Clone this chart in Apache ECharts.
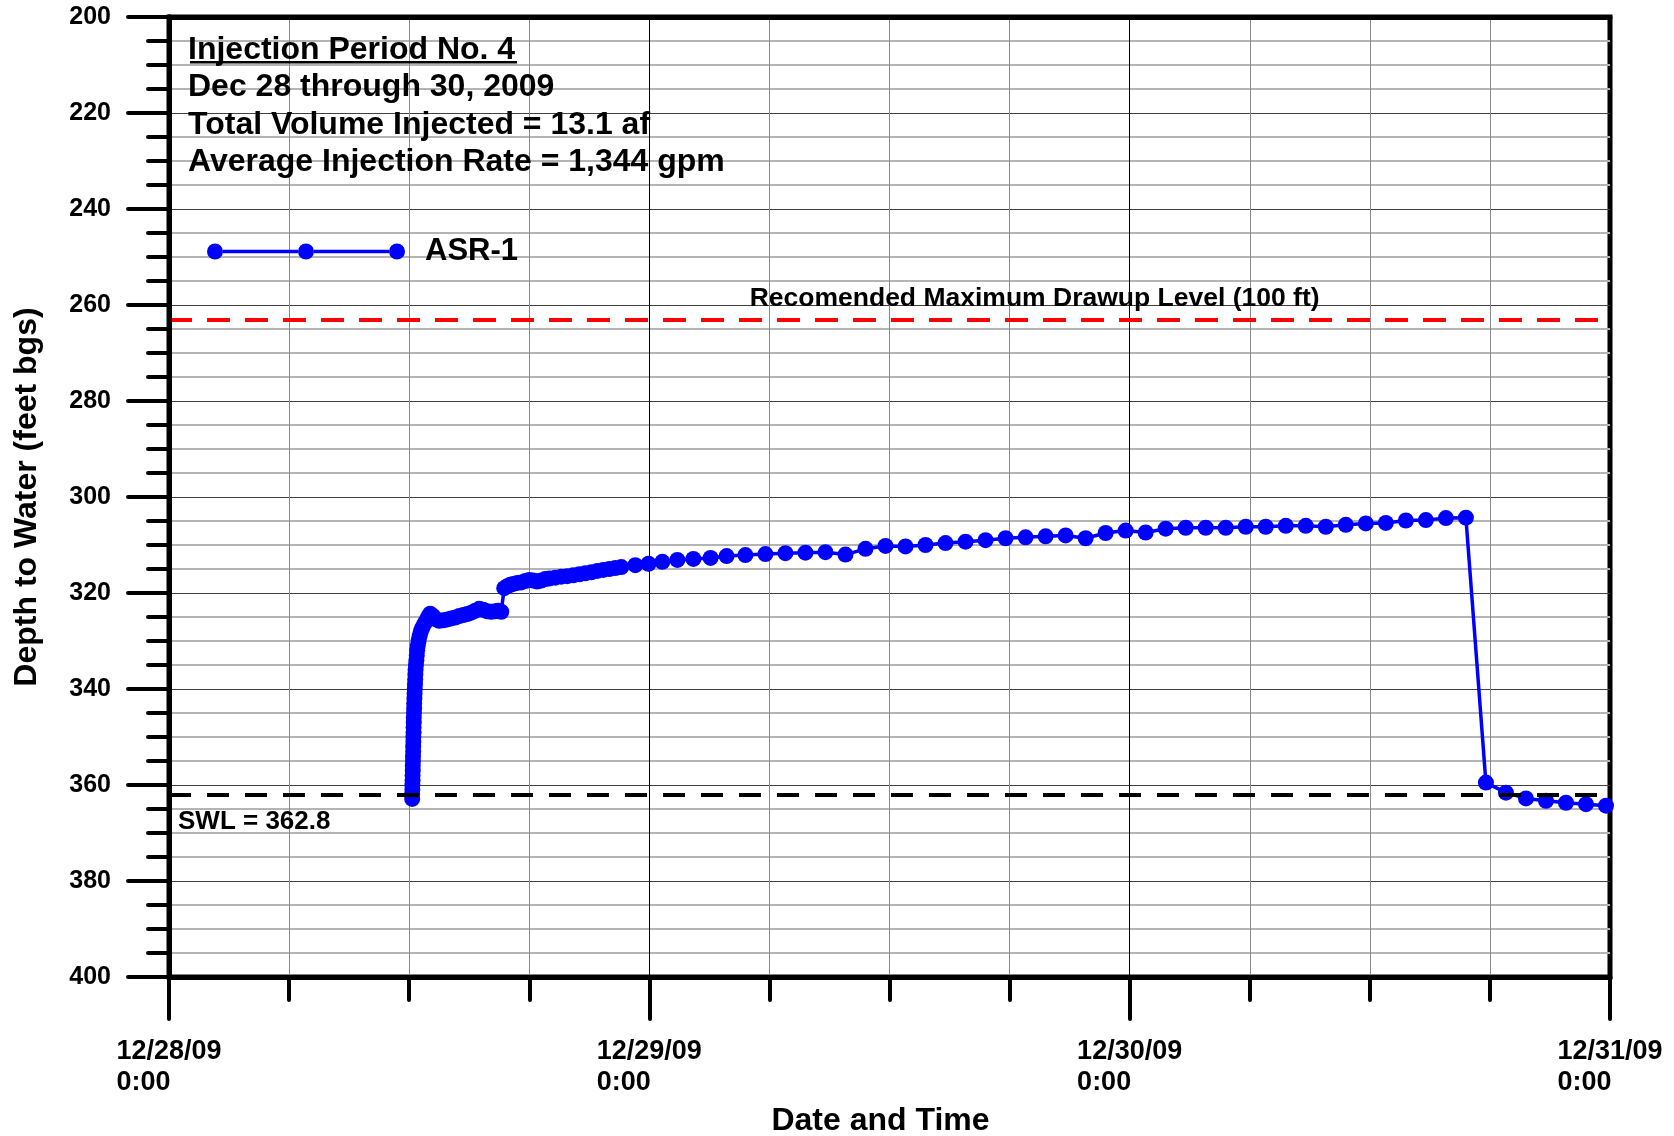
<!DOCTYPE html>
<html>
<head>
<meta charset="utf-8">
<script src="https://cdn.jsdelivr.net/npm/echarts@6/dist/echarts.min.js"></script>
<style>html,body{margin:0;padding:0;background:#fff}#c{width:1674px;height:1136px}</style>
</head>
<body>
<div id="c"></div>
<script>
// ---- text ----
const titleLines = ['Injection Period No. 4', 'Dec 28 through 30, 2009', 'Total Volume Injected = 13.1 af', 'Average Injection Rate = 1,344 gpm'];
const seriesName = 'ASR-1';
const xAxisName = 'Date and Time';
const yAxisName = 'Depth to Water (feet bgs)';
const dateLabels = ['12/28/09', '12/29/09', '12/30/09', '12/31/09'];
const timeLabels = ['0:00', '0:00', '0:00', '0:00'];

// ---- reference levels ----
const drawupLevel = 263;          // feet bgs
const drawupText = 'Recomended Maximum Drawup Level (100 ft)';
const drawupTextHour = 43.25;     // where the caption sits along the line
const swlLevel = 362.0;           // feet bgs
const swlText = 'SWL = 362.8';

// ---- data: hours since 12/28/09 0:00, depth to water (ft bgs) ----
const hours = [
  12.15, 12.15, 12.16, 12.16, 12.17, 12.17, 12.18, 12.18, 12.19, 12.19,
  12.20, 12.20, 12.21, 12.21, 12.22, 12.22, 12.23, 12.23, 12.24, 12.25,
  12.25, 12.26, 12.27, 12.28, 12.29, 12.30, 12.31, 12.32, 12.34, 12.36,
  12.38, 12.40, 12.43, 12.47, 12.52, 12.58, 12.66, 12.75, 12.85, 12.95,
  13.05, 13.2, 13.35, 13.5, 13.7, 13.9, 14.1, 14.3, 14.5, 14.7,
  14.9, 15.1, 15.3, 15.5, 15.7, 15.9, 16.1, 16.3, 16.45, 16.6,
  16.75, 16.9, 17.05, 17.2, 17.4, 17.6, 17.8, 18.0, 18.2, 18.4,
  18.6, 18.8, 19.0, 19.3, 19.6, 19.9, 20.2, 20.5, 20.8, 21.1,
  21.4, 21.7, 22.0, 22.3, 22.6, 23.3, 23.96, 24.65, 25.4, 26.2,
  27.06, 27.86, 28.8, 29.8, 30.8, 31.8, 32.8, 33.8, 34.8, 35.8,
  36.8, 37.8, 38.8, 39.8, 40.8, 41.8, 42.8, 43.8, 44.8, 45.8,
  46.8, 47.8, 48.8, 49.8, 50.8, 51.8, 52.8, 53.8, 54.8, 55.8,
  56.8, 57.8, 58.8, 59.8, 60.8, 61.8, 62.8, 63.8, 64.8, 65.8,
  66.8, 67.8, 68.8, 69.8, 70.8, 71.8
];
const depth = [
  362.9, 362.0, 361.0, 360.0, 359.0, 358.0, 357.0, 356.0, 355.0, 354.0,
  353.0, 352.0, 351.0, 350.0, 349.0, 348.0, 347.0, 346.0, 345.0, 344.0,
  343.0, 342.0, 341.0, 340.0, 339.0, 338.0, 337.0, 336.0, 335.0, 334.0,
  333.0, 332.0, 331.0, 330.0, 329.0, 328.0, 327.2, 326.5, 325.8, 325.0,
  324.3, 324.8, 325.5, 325.8, 325.7, 325.5, 325.3, 325.1, 324.8, 324.6,
  324.4, 324.1, 323.7, 323.3, 323.5, 323.8, 323.9, 323.8, 323.7, 323.9,
  319.0, 318.6, 318.3, 318.1, 317.9, 317.8, 317.5, 317.3, 317.4, 317.6,
  317.4, 317.1, 317.0, 316.8, 316.6, 316.5, 316.3, 316.1, 315.9, 315.7,
  315.4, 315.2, 315.0, 314.8, 314.6, 314.2, 313.9, 313.5, 313.1, 312.9,
  312.7, 312.3, 312.1, 311.9, 311.7, 311.6, 311.5, 312.0, 310.8, 310.2,
  310.3, 310.0, 309.6, 309.3, 309.0, 308.6, 308.4, 308.2, 308.0, 308.6,
  307.5, 307.0, 307.4, 306.6, 306.4, 306.4, 306.4, 306.2, 306.2, 306.0,
  306.0, 306.2, 305.8, 305.5, 305.4, 304.9, 304.8, 304.4, 304.3, 359.5,
  361.6, 362.8, 363.3, 363.7, 364.0, 364.3
];

// ---- axis ranges ----
const xMin = 0, xMax = 72, xStep = 24;
const yMin = 200, yMax = 400, yStep = 20;

const FONT = "'Liberation Sans', Arial, Helvetica, sans-serif";
const BLUE = '#0000ff';
// legend icon: line with three markers (box 198 x 16)
const LEGEND_ICON = 'path://M0,8A8,8,0,1,1,16,8A8,8,0,1,1,0,8Z' +
  'M91,8A8,8,0,1,1,107,8A8,8,0,1,1,91,8Z' +
  'M182,8A8,8,0,1,1,198,8A8,8,0,1,1,182,8Z' +
  'M16,6.25L91,6.25L91,9.75L16,9.75Z' +
  'M107,6.25L182,6.25L182,9.75L107,9.75Z';

const chart = echarts.init(document.getElementById('c'), null, {renderer: 'canvas'});

const frameLine = {show: true, lineStyle: {color: '#000', width: 5}};

chart.setOption({
  animation: false,
  backgroundColor: '#fff',
  title: {
    text: titleLines.join('\n'),
    left: 188, top: 31, padding: 0,
    textStyle: {fontFamily: FONT, fontSize: 32, fontWeight: 'bold', color: '#000', lineHeight: 37.5}
  },
  graphic: [{
    type: 'rect', left: 190, top: 61, z: 100,
    shape: {width: 327, height: 2.5},
    style: {fill: '#000'}
  }],
  legend: {
    left: 207, top: 236, padding: 0,
    itemWidth: 198, itemHeight: 16,
    selectedMode: false,
    data: [{name: seriesName, icon: LEGEND_ICON}],
    textStyle: {fontFamily: FONT, fontSize: 31, fontWeight: 'bold', color: '#000', padding: [0, 0, 0, 15]}
  },
  grid: {
    left: 169, top: 17, width: 1441, height: 960,
    show: true, borderWidth: 5, borderColor: '#000', backgroundColor: 'transparent',
    containLabel: false, outerBoundsMode: 'none'
  },
  xAxis: [{
    type: 'value', min: xMin, max: xMax, interval: xStep, position: 'bottom',
    axisLine: frameLine,
    axisTick: {show: true, inside: false, length: 42, lineStyle: {color: '#000', width: 4, cap: 'round'}},
    minorTick: {show: true, splitNumber: 4, length: 23, lineStyle: {color: '#000', width: 4, cap: 'round'}},
    axisLabel: {
      show: true, margin: 59.5, showMinLabel: true, showMaxLabel: true, hideOverlap: false,
      formatter: function (v) {
        const i = Math.round((v - xMin) / xStep);
        return '{d|' + dateLabels[i] + '}\n{d|' + timeLabels[i] + '}';
      },
      rich: {d: {fontFamily: FONT, fontSize: 27, fontWeight: 'bold', color: '#000', lineHeight: 31, align: 'left'}}
    },
    splitLine: {show: true, lineStyle: {color: '#000', width: 1}},
    minorSplitLine: {show: true, lineStyle: {color: '#8a8a8a', width: 1}},
    name: xAxisName, nameLocation: 'middle', nameGap: 128,
    nameTextStyle: {fontFamily: FONT, fontSize: 32, fontWeight: 'bold', color: '#000', padding: [0, 18, 0, 0]}
  }, {
    type: 'value', min: xMin, max: xMax, interval: xStep, position: 'top',
    axisLine: frameLine, axisTick: {show: false}, axisLabel: {show: false}, splitLine: {show: false}
  }],
  yAxis: [{
    type: 'value', inverse: true, min: yMin, max: yMax, interval: yStep, position: 'left',
    axisLine: frameLine,
    axisTick: {show: true, inside: false, length: 41, lineStyle: {color: '#000', width: 4, cap: 'round'}},
    minorTick: {show: true, splitNumber: 4, length: 21, lineStyle: {color: '#000', width: 4, cap: 'round'}},
    axisLabel: {margin: 58, fontFamily: FONT, fontSize: 25, fontWeight: 'bold', color: '#000'},
    splitLine: {show: true, lineStyle: {color: '#404040', width: 1}},
    minorSplitLine: {show: true, lineStyle: {color: '#b4b4b4', width: 2}},
    name: yAxisName, nameLocation: 'middle', nameGap: 126,
    nameTextStyle: {fontFamily: FONT, fontSize: 32, fontWeight: 'bold', color: '#000'}
  }, {
    type: 'value', inverse: true, min: yMin, max: yMax, interval: yStep, position: 'right', z: 5,
    axisLine: frameLine, axisTick: {show: false}, axisLabel: {show: false}, splitLine: {show: false}
  }],
  series: [{
    name: 'levels', type: 'line', data: [], xAxisIndex: 0, yAxisIndex: 0, z: 1, silent: true,
    markLine: {
      silent: true, symbol: ['none', 'none'], label: {show: false},
      data: [
        {yAxis: drawupLevel, lineStyle: {color: '#ff0000', width: 4, type: [23, 15]}},
        {yAxis: swlLevel, lineStyle: {color: '#000000', width: 4, type: [22, 16]}}
      ]
    },
    markPoint: {
      silent: true, symbol: 'circle', symbolSize: 0, itemStyle: {color: 'rgba(0,0,0,0)'},
      data: [
        {coord: [drawupTextHour, drawupLevel], value: drawupText,
         label: {show: true, formatter: drawupText, position: 'top', distance: 7,
                 fontFamily: FONT, fontSize: 26.5, fontWeight: 'bold', color: '#000'}},
        {coord: [xMin, swlLevel], value: swlText,
         label: {show: true, formatter: swlText, position: [9, 27], align: 'left', verticalAlign: 'middle',
                 fontFamily: FONT, fontSize: 26, fontWeight: 'bold', color: '#000'}}
      ]
    }
  }, {
    name: seriesName, type: 'line', xAxisIndex: 0, yAxisIndex: 0, z: 2,
    data: hours.map((h, i) => [h, depth[i]]),
    symbol: 'circle', symbolSize: 16, showAllSymbol: true,
    lineStyle: {color: BLUE, width: 3.5},
    itemStyle: {color: BLUE}
  }]
});
</script>
</body>
</html>
